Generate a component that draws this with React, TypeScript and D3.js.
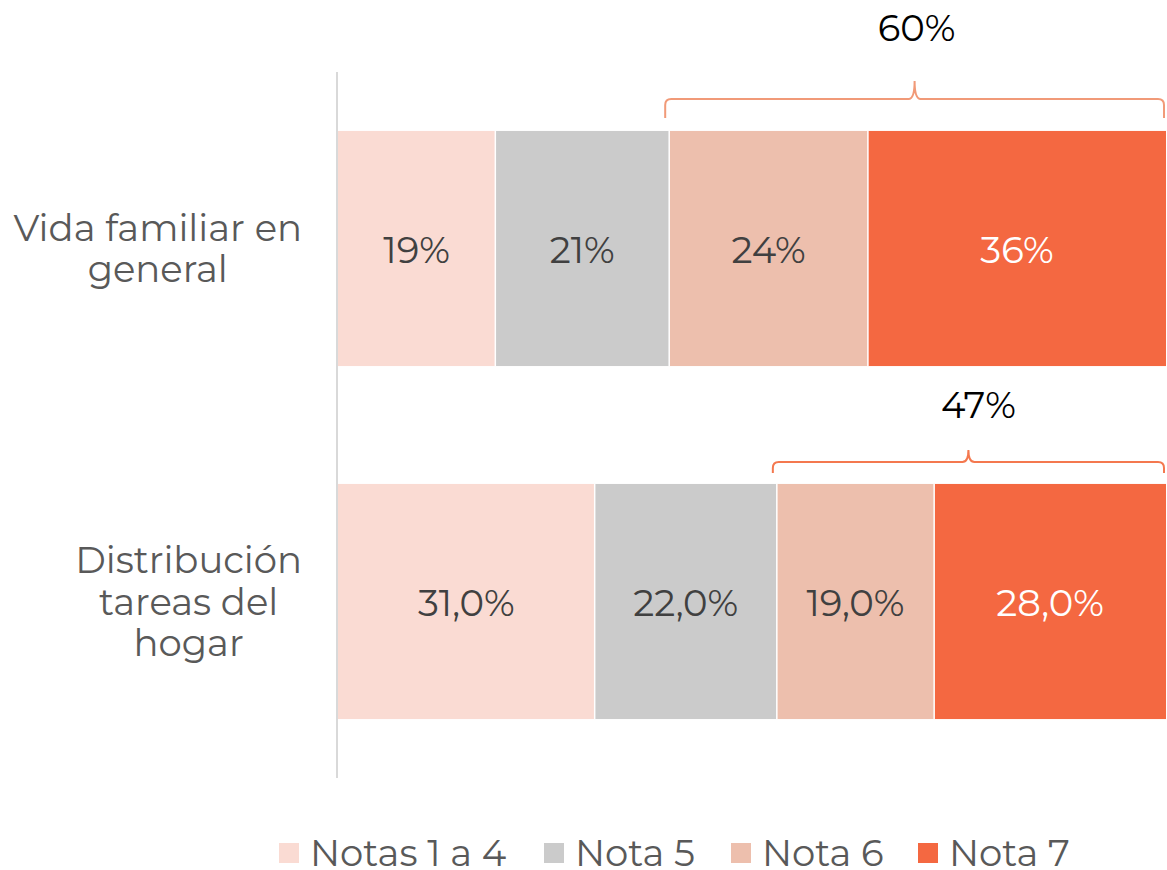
import React, { useEffect, useRef } from 'react';
import * as d3 from 'd3';

const categories = ['Vida familiar en general', 'Distribución tareas del hogar'];
const categoryLines = [['Vida familiar en', 'general'], ['Distribución', 'tareas del', 'hogar']];
const seriesNames = ['Notas 1 a 4', 'Nota 5', 'Nota 6', 'Nota 7'];
const seriesColors = ['#FADBD3', '#CBCBCB', '#EDBFAD', '#F46841'];
const labelColors = ['#404040', '#404040', '#404040', '#FFFFFF'];
const notas14 = [19, 31];
const nota5 = [21, 22];
const nota6 = [24, 19];
const nota7 = [36, 28];
const valueLabels = [
  ['19%', '21%', '24%', '36%'],
  ['31,0%', '22,0%', '19,0%', '28,0%'],
];
const braceLabels = ['60%', '47%'];

const FONT = "Montserrat, 'Noto Sans', sans-serif";

const App = () => {
  const ref = useRef<SVGSVGElement>(null);

  useEffect(() => {
    const svg = d3.select(ref.current);
    svg.selectAll('*').remove();

    const width = 1167;
    const height = 870;
    const left = 338;
    const right = 1166;

    const x = d3.scaleLinear().domain([0, 100]).range([left, right]);
    const y = d3.scaleBand().domain(categories).range([72, 778]).paddingInner(0.334).paddingOuter(0.167);

    const rows = categories.map((c, i) => [notas14[i], nota5[i], nota6[i], nota7[i]]);

    // axis line
    svg.append('line')
      .attr('x1', left - 1).attr('x2', left - 1)
      .attr('y1', 72).attr('y2', 778)
      .attr('stroke', '#D9D9D9').attr('stroke-width', 2);

    rows.forEach((vals, r) => {
      const cat = categories[r];
      const y0 = y(cat)!;
      const bh = y.bandwidth();
      let acc = 0;
      vals.forEach((v, s) => {
        svg.append('rect')
          .attr('x', x(acc)).attr('y', y0)
          .attr('width', x(acc + v) - x(acc)).attr('height', bh)
          .attr('fill', seriesColors[s]);
        svg.append('text')
          .attr('x', (x(acc) + x(acc + v)) / 2)
          .attr('y', y0 + bh / 2 + 14)
          .attr('text-anchor', 'middle')
          .attr('font-family', FONT).attr('font-size', 37)
          .attr('fill', labelColors[s])
          .text(valueLabels[r][s]);
        acc += v;
      });

      // thin white separators
      let sep = 0;
      vals.slice(0, 3).forEach((v) => {
        sep += v;
        svg.append('line')
          .attr('x1', x(sep)).attr('x2', x(sep))
          .attr('y1', y0).attr('y2', y0 + bh)
          .attr('stroke', '#fff').attr('stroke-width', 1.5);
      });

      // brace over Nota 6 + Nota 7
      const bx0 = x(vals[0] + vals[1]) - 4;
      const bx1 = x(100) - 2;
      const bm = (bx0 + bx1) / 2;
      const yb = r === 0 ? y0 - 32 : y0 - 22;
      const tipH = r === 0 ? 18 : 12;
      const endH = r === 0 ? 19 : 11;
      const rr = 6;
      const p = d3.path();
      p.moveTo(bx0, yb + endH);
      p.lineTo(bx0, yb + rr);
      p.quadraticCurveTo(bx0, yb, bx0 + rr, yb);
      p.lineTo(bm - rr, yb);
      p.quadraticCurveTo(bm, yb, bm, yb - tipH);
      p.quadraticCurveTo(bm, yb, bm + rr, yb);
      p.lineTo(bx1 - rr, yb);
      p.quadraticCurveTo(bx1, yb, bx1, yb + rr);
      p.lineTo(bx1, yb + endH);
      svg.append('path')
        .attr('d', p.toString())
        .attr('fill', 'none')
        .attr('stroke', r === 0 ? '#F19A78' : '#F4784F')
        .attr('stroke-width', 2);

      svg.append('text')
        .attr('x', r === 0 ? bm + 2 : bm + 10)
        .attr('y', r === 0 ? 41 : y0 - 66)
        .attr('text-anchor', 'middle')
        .attr('font-family', FONT).attr('font-size', 37)
        .attr('fill', '#000')
        .text(braceLabels[r]);

      // category labels, wrapped and centered under right edge
      const g = svg.append('g');
      const lines = categoryLines[r];
      const texts = lines.map((ln, k) =>
        g.append('text')
          .attr('y', y0 + bh / 2 + 13 + (k - (lines.length - 1) / 2) * 41.5)
          .attr('text-anchor', 'middle')
          .attr('font-family', FONT).attr('font-size', 37)
          .attr('fill', '#595959')
          .text(ln)
      );
      const maxW = d3.max(texts, (t) => (t.node() as SVGTextElement).getComputedTextLength()) || 0;
      texts.forEach((t) => t.attr('x', 302 - maxW / 2));
    });

    // legend
    const legendX = [279, 544, 731, 918];
    seriesNames.forEach((name, i) => {
      svg.append('rect')
        .attr('x', legendX[i]).attr('y', 843)
        .attr('width', 20).attr('height', 20)
        .attr('fill', seriesColors[i]);
      svg.append('text')
        .attr('x', legendX[i] + 31).attr('y', 866)
        .attr('font-family', FONT).attr('font-size', 37)
        .attr('fill', '#595959')
        .text(name);
    });

    svg.attr('width', width).attr('height', height);
  }, []);

  return (
    <div style={{ position: 'absolute', left: 0, top: 0 }}>
      <svg ref={ref} width={1167} height={870} style={{ display: 'block', background: '#fff' }} />
    </div>
  );
};

export default App;
